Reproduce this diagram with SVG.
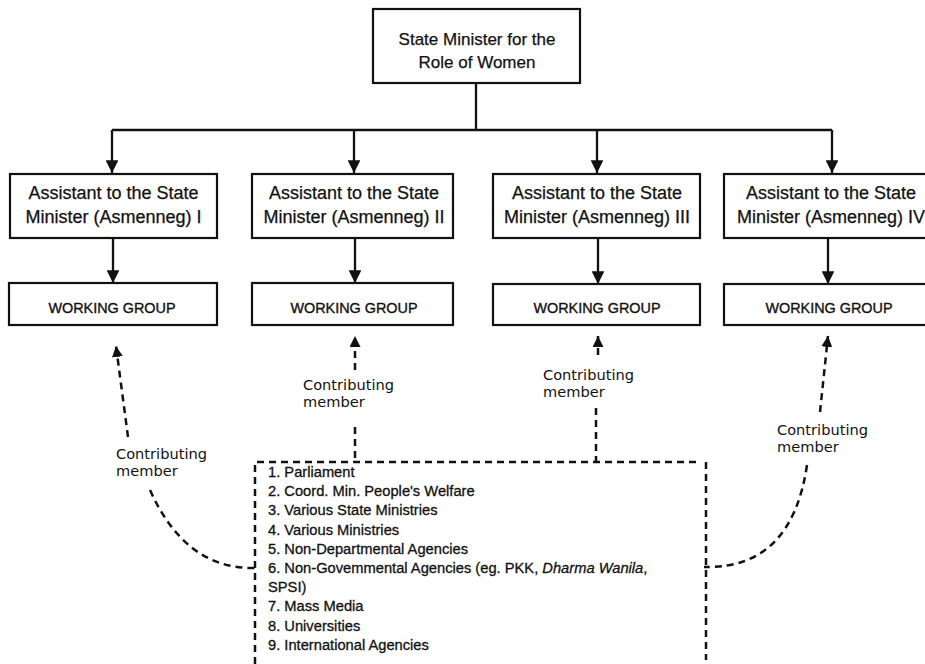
<svg xmlns="http://www.w3.org/2000/svg" width="925" height="664" viewBox="0 0 925 664">
<defs>
<style>
.box{fill:#fff;stroke:#111;stroke-width:2.2}
.t{font-family:"Liberation Sans",Arial,sans-serif;fill:#111;text-anchor:middle;stroke:#111;stroke-width:0.25}
.t1{font-size:17px}
.t2{font-size:18px}
.wg{font-size:14.4px;stroke-width:0.35}
.lbl{font-family:"DejaVu Sans",Verdana,sans-serif;font-size:14.6px;fill:#111}
.li{font-family:"Liberation Sans",Arial,sans-serif;font-size:14.7px;fill:#111;stroke:#111;stroke-width:0.3}
.solid{fill:none;stroke:#111;stroke-width:2.3}
.dash{fill:none;stroke:#111;stroke-width:2.5;stroke-dasharray:7 5}
</style>
<marker id="ah" viewBox="0 0 10 10" refX="10" refY="5" markerWidth="5.5" markerHeight="5.5" orient="auto" markerUnits="strokeWidth">
<path d="M0,0 L10,5 L0,10 z" fill="#111"/>
</marker>
<marker id="ahd" viewBox="0 0 10 10" refX="10" refY="5" markerWidth="4.4" markerHeight="4.4" orient="auto" markerUnits="strokeWidth">
<path d="M0,0 L10,5 L0,10 z" fill="#111"/>
</marker>
</defs>
<rect width="925" height="664" fill="#fff"/>

<g id="connectors">
<path class="solid" d="M476,83 V130 M112,130 H832"/>
<path class="solid" d="M112,130 V173" marker-end="url(#ah)"/>
<path class="solid" d="M354,130 V173" marker-end="url(#ah)"/>
<path class="solid" d="M597,130 V173" marker-end="url(#ah)"/>
<path class="solid" d="M832,130 V173" marker-end="url(#ah)"/>
<path class="solid" d="M113,238 V283" marker-end="url(#ah)"/>
<path class="solid" d="M355,238 V283" marker-end="url(#ah)"/>
<path class="solid" d="M598,238 V284" marker-end="url(#ah)"/>
<path class="solid" d="M828,238 V284" marker-end="url(#ah)"/>

<path class="dash" d="M128,437 L116,346" marker-end="url(#ahd)"/>
<path class="dash" d="M150,490 Q185,568 252,568 H257"/>
<path class="dash" d="M355,370 V336" marker-end="url(#ahd)"/>
<path class="dash" d="M355,427 V462"/>
<path class="dash" d="M598,355 V336" marker-end="url(#ahd)"/>
<path class="dash" d="M596,408 V462"/>
<path class="dash" d="M820,412 L828,336" marker-end="url(#ahd)"/>
<path class="dash" d="M807,465 Q792,567 708,567 H704"/>
<path class="dash" d="M255,664 V462 H700 M706,462 V660"/>
</g>

<g id="n-top">
<rect class="box" x="373" y="9" width="207" height="74"/>
<text class="t t1" x="477" y="45">State Minister for the</text>
<text class="t t1" x="477" y="68">Role of Women</text>
</g>

<g id="n-asst1">
<rect class="box" x="10" y="174" width="207" height="64"/>
<text class="t t2" x="113.5" y="199">Assistant to the State</text>
<text class="t t2" x="113.5" y="223">Minister (Asmenneg) I</text>
</g>
<g id="n-asst2">
<rect class="box" x="252" y="174" width="201" height="64"/>
<text class="t t2" x="354" y="199">Assistant to the State</text>
<text class="t t2" x="354" y="223">Minister (Asmenneg) II</text>
</g>
<g id="n-asst3">
<rect class="box" x="493" y="174" width="207" height="64"/>
<text class="t t2" x="597" y="199">Assistant to the State</text>
<text class="t t2" x="597" y="223">Minister (Asmenneg) III</text>
</g>
<g id="n-asst4">
<rect class="box" x="724" y="174" width="210" height="64"/>
<text class="t t2" x="831" y="199">Assistant to the State</text>
<text class="t t2" x="831" y="223">Minister (Asmenneg) IV</text>
</g>

<g id="n-wg1">
<rect class="box" x="9" y="283" width="208" height="42"/>
<text class="t wg" x="112" y="313">WORKING GROUP</text>
</g>
<g id="n-wg2">
<rect class="box" x="252" y="283" width="201" height="42"/>
<text class="t wg" x="354" y="313">WORKING GROUP</text>
</g>
<g id="n-wg3">
<rect class="box" x="493" y="284" width="207" height="41"/>
<text class="t wg" x="597" y="313">WORKING GROUP</text>
</g>
<g id="n-wg4">
<rect class="box" x="724" y="284" width="210" height="41"/>
<text class="t wg" x="829" y="313">WORKING GROUP</text>
</g>

<g id="labels">
<text class="lbl" x="116" y="459">Contributing</text>
<text class="lbl" x="116" y="476">member</text>
<text class="lbl" x="303" y="390">Contributing</text>
<text class="lbl" x="303" y="407">member</text>
<text class="lbl" x="543" y="380">Contributing</text>
<text class="lbl" x="543" y="397">member</text>
<text class="lbl" x="777" y="435">Contributing</text>
<text class="lbl" x="777" y="452">member</text>
</g>

<g id="n-members">
<text class="li" x="268" y="477">1. Parliament</text>
<text class="li" x="268" y="496.2">2. Coord. Min. People's Welfare</text>
<text class="li" x="268" y="515.4">3. Various State Ministries</text>
<text class="li" x="268" y="534.6">4. Various Ministries</text>
<text class="li" x="268" y="553.8">5. Non-Departmental Agencies</text>
<text class="li" x="268" y="573">6. Non-Govemmental Agencies (eg. PKK, <tspan font-style="italic">Dharma Wanila</tspan>,</text>
<text class="li" x="268" y="592.2">SPSI)</text>
<text class="li" x="268" y="611.4">7. Mass Media</text>
<text class="li" x="268" y="630.6">8. Universities</text>
<text class="li" x="268" y="649.8">9. International Agencies</text>
</g>
</svg>
